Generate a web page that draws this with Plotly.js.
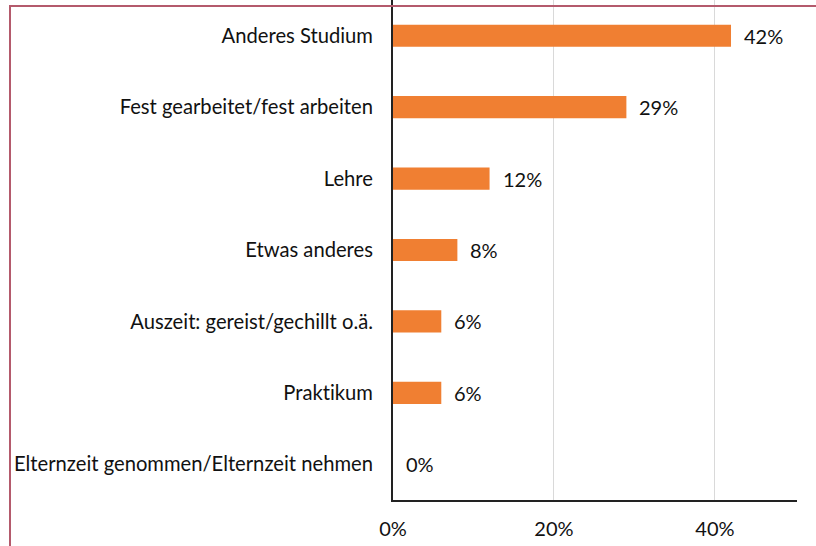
<!DOCTYPE html>
<html><head><meta charset="utf-8">
<script src="https://cdn.plot.ly/plotly-3.0.1.min.js"></script>
<style>
body{margin:0;background:#fff;}
#wrap{position:relative;width:816px;height:546px;}
#chart{width:816px;height:546px;}
#chart text{font-variant-ligatures:none;font-feature-settings:"liga" 0;}
#frame{position:absolute;left:9px;top:5px;right:0;bottom:0;border-left:2px solid #b45a6c;border-top:2px solid #b45a6c;pointer-events:none;}
</style></head>
<body>
<div id="wrap"><div id="chart"></div><div id="frame"></div></div>
<script>
const categories = ["Anderes Studium","Fest gearbeitet/fest arbeiten","Lehre","Etwas anderes","Auszeit: gereist/gechillt o.ä.","Praktikum","Elternzeit genommen/Elternzeit nehmen"];
const values = [42,29,12,8,6,6,0];
const valueLabels = ["42%","29%","12%","8%","6%","6%","0%"];
const xTickVals = [0,20,40];
const xTickText = ["0%","20%","40%"];

const font = "Lato, 'Open Sans', sans-serif";
const trace = {
  type:'bar', orientation:'h', x:values, y:categories,
  marker:{color:'#f07f32'}, hoverinfo:'skip'
};
const annotations = categories.map((c,i)=>({
  x:values[i], y:c, xref:'x', yref:'y', text:valueLabels[i], showarrow:false,
  xanchor:'left', yanchor:'middle', xshift:11, font:{family:font,size:20,color:'#111'}
}));
const layout = {
  width:816, height:546,
  margin:{l:393,r:19,t:0,b:46},
  paper_bgcolor:'#fff', plot_bgcolor:'#fff',
  bargap:0.69,
  showlegend:false,
  xaxis:{range:[0,50.2], tickvals:xTickVals, ticktext:xTickText, showgrid:true, gridcolor:'#d9d9d9', gridwidth:1,
    zeroline:false, showline:true, linecolor:'#222', linewidth:2, ticks:'', ticklabelstandoff:10,
    tickfont:{family:font,size:20,color:'#111'}},
  yaxis:{categoryorder:'array', categoryarray:categories.slice().reverse(),
    showline:true, linecolor:'#222', linewidth:2, showgrid:false, zeroline:false, ticks:'', ticklabelstandoff:14,
    tickfont:{family:font,size:20.2,color:'#111'}},
  annotations:annotations
};
Plotly.newPlot('chart',[trace],layout,{displayModeBar:false,staticPlot:true});
</script>
</body></html>
